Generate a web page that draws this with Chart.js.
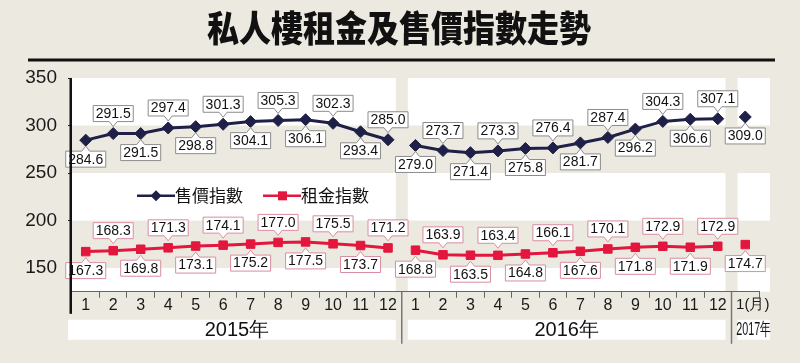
<!DOCTYPE html>
<html>
<head>
<meta charset="utf-8">
<script src="https://cdn.jsdelivr.net/npm/chart.js@4.4.1/dist/chart.umd.min.js"></script>
<style>
  html, body { margin: 0; padding: 0; background: #ece9e0; }
  #wrap { width: 800px; height: 363px; }
</style>
</head>
<body>
<div id="wrap"><canvas id="indexChart"></canvas></div>
<script>
// ---------------------------Data------------------------------------------------
const chartTitle = "私人樓租金及售價指數走勢";
const monthLabels = ["1", "2", "3", "4", "5", "6", "7", "8", "9", "10", "11", "12",
                     "1", "2", "3", "4", "5", "6", "7", "8", "9", "10", "11", "12",
                     "1(月)"];
const yearLabels = ["2015年", "2016年", "2017年"];
const yearMonths = [12, 12, 1];

const saleIndex = [284.6, 291.5, 291.5, 297.4, 298.8, 301.3, 304.1, 305.3, 306.1, 302.3, 293.4, 285.0,
                   279.0, 273.7, 271.4, 273.3, 275.8, 276.4, 281.7, 287.4, 296.2, 304.3, 306.6, 307.1,
                   309.0];
const rentIndex = [167.3, 168.3, 169.8, 171.3, 173.1, 174.1, 175.2, 177.0, 177.5, 175.5, 173.7, 171.2,
                   168.8, 163.9, 163.5, 163.4, 164.8, 166.1, 167.6, 170.1, 171.8, 172.9, 171.9, 172.9,
                   174.7];
const yTicks = [150, 200, 250, 300, 350];
// ----------------------------------------------------------------------------------------------

const NAVY = "#1e2048";
const RED = "#e3163d";
const BEIGE = "#ece9e0";
const LAST = monthLabels.length - 1;

// first index of every year
const yearStarts = [];
yearMonths.reduce((acc, n) => { yearStarts.push(acc); return acc + n; }, 0);

const isYearBreak = (i) => i > 0 && yearStarts.includes(i);
// position of a point inside its year (0 = first month)
const monthInYear = (i) => {
  let s = 0;
  yearStarts.forEach((st) => { if (i >= st) s = st; });
  return i - s;
};

function yearRanges(chart) {
  const x = chart.scales.x;
  const area = chart.chartArea;
  return yearStarts.map((start, g) => {
    const end = start + yearMonths[g] - 1;
    const left = start === 0 ? area.left
      : (x.getPixelForValue(start - 1) + x.getPixelForValue(start)) / 2;
    const right = end === LAST ? area.right + 11
      : (x.getPixelForValue(end) + x.getPixelForValue(end + 1)) / 2;
    return { left, right, label: yearLabels[g] };
  });
}

// Backgrounds, bands, stripes, title and the rule under it
const backdrop = {
  id: "backdrop",
  beforeDraw(chart) {
    const { ctx, chartArea: area, scales: { y } } = chart;
    const plotRight = area.right + 11;
    const groups = yearRanges(chart);
    ctx.save();
    ctx.fillStyle = BEIGE;
    ctx.fillRect(0, 0, chart.width, chart.height);

    ctx.fillStyle = "#ffffff";
    ctx.fillRect(area.left, area.top, plotRight - area.left, area.bottom - area.top);

    ctx.fillStyle = BEIGE;
    [[300, 250], [200, 150]].forEach(([a, b]) => {
      const y1 = y.getPixelForValue(a);
      const y2 = y.getPixelForValue(b);
      ctx.fillRect(area.left, y1, plotRight - area.left, y2 - y1);
    });

    // white strip for the year names
    ctx.fillStyle = "#ffffff";
    groups.forEach((g, i) => {
      const l = i === 0 ? area.left - 4 : g.left + 6;
      const r = i === groups.length - 1 ? g.right : g.right - 6;
      ctx.fillRect(l, area.bottom + 28, r - l, 20);
    });

    // beige stripes between the years
    ctx.fillStyle = BEIGE;
    groups.slice(1).forEach((g) => {
      ctx.fillRect(g.left - 6, area.top, 12, area.bottom - area.top);
    });

    // title, a little taller than wide like the print face
    ctx.fillStyle = "#111111";
    ctx.save();
    ctx.translate(399, 28);
    ctx.scale(1, 1.13);
    ctx.font = "900 32px 'Noto Sans CJK TC'";
    ctx.textAlign = "center";
    ctx.textBaseline = "middle";
    ctx.fillText(chartTitle, 0, 0);
    ctx.restore();
    ctx.fillRect(28, 58.5, 747, 3);
    ctx.restore();
  },
  afterDraw(chart) {
    const { ctx, chartArea: area } = chart;
    const groups = yearRanges(chart);
    ctx.save();
    // y axis line goes below the month row
    ctx.fillStyle = "#111111";
    ctx.fillRect(area.left - 2.5, area.top, 2.5, area.bottom + 22 - area.top);

    ctx.strokeStyle = "#777777";
    ctx.lineWidth = 1.5;
    groups.slice(1).forEach((g) => {
      ctx.beginPath();
      ctx.moveTo(g.left, area.bottom);
      ctx.lineTo(g.left, area.bottom + 52);
      ctx.stroke();
    });

    ctx.fillStyle = "#111111";
    ctx.textBaseline = "middle";
    ctx.textAlign = "center";
    groups.forEach((g, i) => {
      const cy = area.bottom + 38.5;
      if (i === groups.length - 1) {
        ctx.save();
        ctx.translate((g.left + 6 + g.right) / 2, cy);
        ctx.scale(0.6, 1);
        ctx.font = "18px 'Liberation Sans'";
        ctx.fillText(g.label, 0, 0);
        ctx.restore();
      } else {
        ctx.font = "20px 'Liberation Sans'";
        ctx.fillText(g.label, (g.left + g.right) / 2, cy);
      }
    });
    ctx.restore();
  },
};

// Value boxes with a small pointer toward the point
const valueBoxes = {
  id: "valueBoxes",
  afterDatasetsDraw(chart) {
    const ctx = chart.ctx;
    ctx.save();
    ctx.font = "14px 'Liberation Sans'";
    ctx.textAlign = "center";
    ctx.textBaseline = "middle";
    chart.data.datasets.forEach((ds, di) => {
      const meta = chart.getDatasetMeta(di);
      meta.data.forEach((pt, i) => {
        const text = ds.data[i].toFixed(1);
        const w = ctx.measureText(text).width + 5;
        const h = 16;
        const above = monthInYear(i) % 2 === 1;
        const px = pt.x;
        const bx = px - w / 2;
        const by = above ? pt.y - 12 - h : pt.y + 11;
        const edge = above ? by + h : by;
        const tip = above ? edge + 5 : edge - 5;
        ctx.beginPath();
        ctx.moveTo(bx, by);
        if (above) {
          ctx.lineTo(bx + w, by);
          ctx.lineTo(bx + w, by + h);
          ctx.lineTo(px + 4, edge);
          ctx.lineTo(px, tip);
          ctx.lineTo(px - 4, edge);
          ctx.lineTo(bx, by + h);
        } else {
          ctx.lineTo(px - 4, edge);
          ctx.lineTo(px, tip);
          ctx.lineTo(px + 4, edge);
          ctx.lineTo(bx + w, by);
          ctx.lineTo(bx + w, by + h);
          ctx.lineTo(bx, by + h);
        }
        ctx.closePath();
        ctx.fillStyle = "#ffffff";
        ctx.fill();
        ctx.lineWidth = 1;
        ctx.strokeStyle = ds.boxBorder;
        ctx.stroke();
        ctx.fillStyle = "#111111";
        ctx.fillText(text, px, by + h / 2 + 0.5);
      });
    });
    ctx.restore();
  },
};

// Legend drawn inside the plot
const innerLegend = {
  id: "innerLegend",
  afterDatasetsDraw(chart) {
    const { ctx, chartArea: area, scales: { y } } = chart;
    const cy = y.getPixelForValue(226);
    let x0 = area.left + 65;
    ctx.save();
    ctx.font = "17px 'Noto Sans CJK TC'";
    ctx.textBaseline = "middle";
    ctx.textAlign = "left";
    chart.data.datasets.forEach((ds) => {
      ctx.strokeStyle = ds.borderColor;
      ctx.lineWidth = 2.5;
      ctx.beginPath();
      ctx.moveTo(x0, cy);
      ctx.lineTo(x0 + 38, cy);
      ctx.stroke();
      ctx.fillStyle = ds.borderColor;
      ctx.beginPath();
      if (ds.pointStyle === "rectRot") {
        ctx.moveTo(x0 + 19, cy - 5.5);
        ctx.lineTo(x0 + 24.5, cy);
        ctx.lineTo(x0 + 19, cy + 5.5);
        ctx.lineTo(x0 + 13.5, cy);
      } else {
        ctx.rect(x0 + 15, cy - 4.5, 9, 9);
      }
      ctx.fill();
      ctx.fillStyle = "#111111";
      ctx.fillText(ds.label, x0 + 38, cy);
      x0 += 38 + ctx.measureText(ds.label).width + 20;
    });
    ctx.restore();
  },
};

const breakSegment = {
  borderColor: (c) => (isYearBreak(c.p1DataIndex) ? "rgba(0,0,0,0)" : undefined),
};

const ctx = document.getElementById("indexChart").getContext("2d");
new Chart(ctx, {
  type: "line",
  data: {
    labels: monthLabels,
    datasets: [
      {
        label: "售價指數",
        data: saleIndex,
        borderColor: NAVY,
        backgroundColor: NAVY,
        borderWidth: 3,
        pointStyle: "rectRot",
        pointRadius: 6,
        pointBorderWidth: 1,
        boxBorder: "#8c8c8c",
        segment: breakSegment,
      },
      {
        label: "租金指數",
        data: rentIndex,
        borderColor: RED,
        backgroundColor: RED,
        borderWidth: 3,
        pointStyle: "rect",
        pointRadius: 6,
        pointBorderWidth: 1,
        boxBorder: "#d98ea0",
        segment: breakSegment,
      },
    ],
  },
  options: {
    responsive: true,
    maintainAspectRatio: false,
    animation: false,
    layout: { padding: { top: 78, left: 0, right: 41, bottom: 50 } },
    plugins: {
      legend: { display: false },
      tooltip: { enabled: false },
      title: { display: false },
    },
    scales: {
      x: {
        offset: true,
        border: { display: true, color: "#666666", width: 1 },
        grid: {
          offset: true,
          drawOnChartArea: false,
          drawTicks: true,
          tickLength: 6,
          color: (c) => (c.index === 0 || c.index === monthLabels.length ? "rgba(0,0,0,0)" : "#666666"),
        },
        ticks: {
          color: "#1a1a1a",
          padding: -2,
          autoSkip: false,
          maxRotation: 0,
          // the 2017 label sits a little right of its point
          callback: (v, i) => (i === LAST ? "\u2002\u2002" + monthLabels[i] : monthLabels[i]),
          font: (c) => ({ family: "'Liberation Sans'", size: c.index === LAST ? 15 : 16 }),
        },
      },
      y: {
        min: 125,
        max: 350,
        afterBuildTicks: (axis) => { axis.ticks = yTicks.map((v) => ({ value: v })); },
        afterFit: (axis) => { axis.width = 72; },
        border: { display: false },
        grid: { drawOnChartArea: false, drawTicks: true, tickLength: 4, color: "#222222" },
        ticks: {
          color: "#1a1a1a",
          padding: 11,
          font: { family: "'Liberation Sans'", size: 19 },
        },
      },
    },
  },
  plugins: [backdrop, valueBoxes, innerLegend],
});
</script>
</body>
</html>
